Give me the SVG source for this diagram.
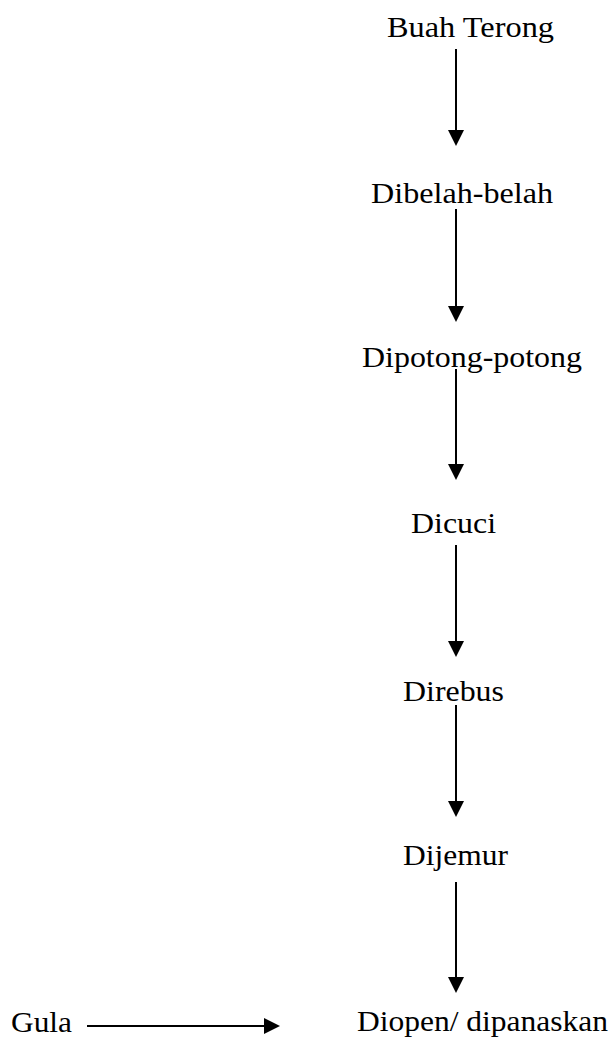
<svg xmlns="http://www.w3.org/2000/svg" width="613" height="1039" viewBox="0 0 613 1039">
<style>
text{font-family:"Liberation Serif","Times New Roman",serif;font-size:29px;fill:#000}
.c line{stroke:#000;stroke-width:2}
.c path{fill:#000}
</style>
<rect width="613" height="1039" fill="#fff"/>
<g id="n1"><text x="387" y="37" textLength="167" lengthAdjust="spacingAndGlyphs">Buah Terong</text></g>
<g id="n2"><text x="371" y="203" textLength="182" lengthAdjust="spacingAndGlyphs">Dibelah-belah</text></g>
<g id="n3"><text x="362" y="367" textLength="220" lengthAdjust="spacingAndGlyphs">Dipotong-potong</text></g>
<g id="n4"><text x="411" y="533" textLength="85" lengthAdjust="spacingAndGlyphs">Dicuci</text></g>
<g id="n5"><text x="403" y="701" textLength="101" lengthAdjust="spacingAndGlyphs">Direbus</text></g>
<g id="n6"><text x="403" y="865" textLength="105" lengthAdjust="spacingAndGlyphs">Dijemur</text></g>
<g id="n7"><text x="357" y="1031" textLength="251" lengthAdjust="spacingAndGlyphs">Diopen/ dipanaskan</text></g>
<g id="n8"><text x="11" y="1032" textLength="61" lengthAdjust="spacingAndGlyphs">Gula</text></g>
<g id="connectors" class="c">
<line x1="456" y1="49" x2="456" y2="132"/><path d="M448,130 L464,130 L456,146 Z"/>
<line x1="456" y1="209" x2="456" y2="308"/><path d="M448,306 L464,306 L456,322 Z"/>
<line x1="456" y1="369" x2="456" y2="466"/><path d="M448,464 L464,464 L456,480 Z"/>
<line x1="456" y1="545" x2="456" y2="643"/><path d="M448,641 L464,641 L456,657 Z"/>
<line x1="456" y1="705" x2="456" y2="803"/><path d="M448,801 L464,801 L456,817 Z"/>
<line x1="456" y1="882" x2="456" y2="979"/><path d="M448,977 L464,977 L456,993 Z"/>
<line x1="87" y1="1026" x2="266" y2="1026"/><path d="M264,1018 L264,1034 L280,1026 Z"/>
</g>
</svg>
